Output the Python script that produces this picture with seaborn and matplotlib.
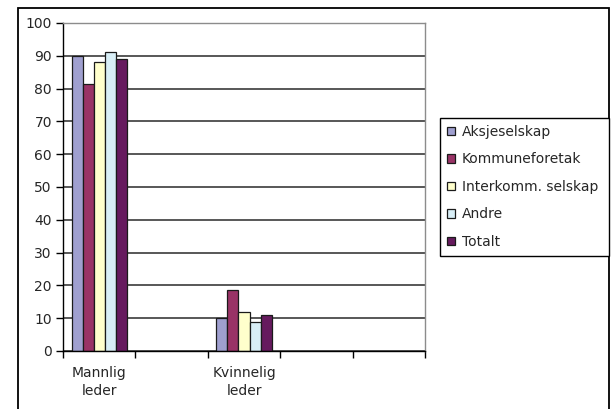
import seaborn as sns
import matplotlib.pyplot as plt
import pandas as pd
from matplotlib.patches import Rectangle

# data
grupper = ["Mannlig\nleder", "tom1", "Kvinnelig\nleder", "tom2", "tom3"]
tick_tekst = ["Mannlig\nleder", "", "Kvinnelig\nleder", "", ""]
leder = ["Mannlig\nleder", "Kvinnelig\nleder"]
serier = ["Aksjeselskap", "Kommuneforetak", "Interkomm. selskap", "Andre", "Totalt"]
aksjeselskap = [90, 10]
kommuneforetak = [81.5, 18.5]
interkomm = [88, 12]
andre = [91.3, 8.7]
totalt = [89, 11]
farger = ["#9f9fcf", "#993366", "#ffffcc", "#d8eef6", "#661a5e"]

rader = []
for navn, verdier in zip(serier, [aksjeselskap, kommuneforetak, interkomm, andre, totalt]):
    for kat, v in zip(leder, verdier):
        rader.append({"kat": kat, "serie": navn, "prosent": v})
df = pd.DataFrame(rader)

sns.set_style("white")
plt.rcParams["font.family"] = ["DejaVu Sans"]

fig = plt.figure(figsize=(6.11, 4.09), dpi=100)
ax = fig.add_axes([63/611, 1-351/409, (425-63)/611, (351-23)/409])

sns.barplot(data=df, x="kat", y="prosent", hue="serie", order=grupper,
            hue_order=serier, palette=farger, saturation=1, width=0.76, gap=0,
            edgecolor="#1a1a1a", linewidth=0.9, ax=ax)

ax.set_xlim(-0.5, 4.5)
ax.set_ylim(0, 100)
ax.set_yticks(range(0, 101, 10))
ax.yaxis.grid(True, color="#2a2a2a", linewidth=1.1)
ax.set_axisbelow(True)
ax.set_xlabel("")
ax.set_ylabel("")

ax.set_xticks(range(5))
ax.set_xticklabels(tick_tekst, fontsize=10, linespacing=1.35)
ax.set_xticks([x + 0.5 for x in range(-1, 5)], minor=True)
ax.tick_params(axis="x", which="major", length=0, pad=11)
ax.tick_params(axis="x", which="minor", length=5, width=1, color="black", direction="out")
ax.tick_params(axis="y", length=5, width=1, color="black", direction="out", labelsize=10, pad=3)
ax.xaxis.set_tick_params(bottom=True, which="both")
ax.yaxis.set_tick_params(left=True)

for s in ["top", "right"]:
    ax.spines[s].set_color("#8c8c8c")
    ax.spines[s].set_linewidth(1)
for s in ["left", "bottom"]:
    ax.spines[s].set_color("black")
    ax.spines[s].set_linewidth(1)

handles, labels = ax.get_legend_handles_labels()
ax.get_legend().remove()
fig.legend(handles, labels, loc="upper left", mode="expand",
           bbox_to_anchor=(440/611, 1-257/409, (609-440)/611, (257-118)/409),
           borderaxespad=0, fontsize=10,
           handlelength=0.55, handleheight=0.55, handletextpad=0.5,
           labelspacing=0.97, borderpad=0.5, frameon=True, fancybox=False,
           edgecolor="black", framealpha=1)
fig.legends[0].get_frame().set_linewidth(1)

# outer chart frame
fig.add_artist(Rectangle((18/611, -0.1), (609-18)/611, 1-8/409+0.1,
                         transform=fig.transFigure, fill=False,
                         edgecolor="black", linewidth=1.3))

fig.savefig("out.png", dpi=100)
